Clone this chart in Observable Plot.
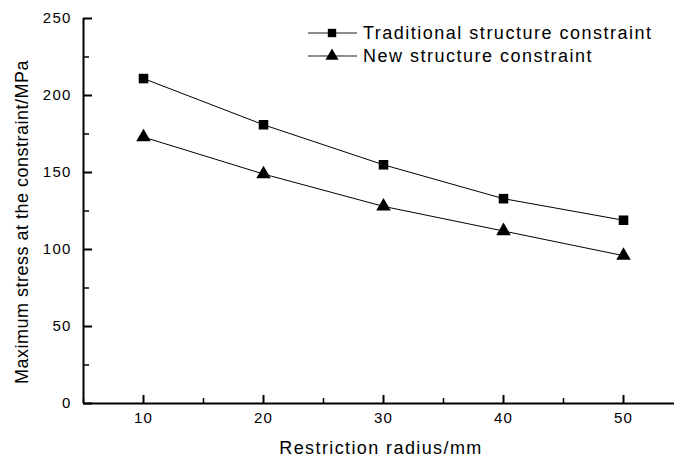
<!DOCTYPE html>
<html>
<head>
<meta charset="utf-8">
<script src="https://cdn.jsdelivr.net/npm/d3@7"></script>
<script src="https://cdn.jsdelivr.net/npm/@observablehq/plot@0.6"></script>
<style>
  html, body { margin: 0; padding: 0; background: #fff; }
  #wrap { position: relative; width: 674px; height: 458px; font-family: "Liberation Sans", Arial, sans-serif; }
  #overlay { position: absolute; left: 0; top: 0; pointer-events: none; }
  #overlay text { font-family: "Liberation Sans", Arial, sans-serif; fill: #000; }
</style>
</head>
<body>
<div id="wrap"></div>
<script>
const radius = [10, 20, 30, 40, 50];
const traditional = [211, 181, 155, 133, 119];
const newStructure = [173, 149, 128, 112, 96];
const seriesNames = ["Traditional structure constraint", "New structure constraint"];
const seriesSymbols = ["square", "triangle"];
const xMajorTicks = [10, 20, 30, 40, 50];
const xMinorTicks = [5, 15, 25, 35, 45];
const yMajorTicks = [0, 50, 100, 150, 200, 250];
const yMinorTicks = [25, 75, 125, 175, 225];
const xTitle = "Restriction radius/mm";
const yTitle = "Maximum stress at the constraint/MPa";

const data = [];
radius.forEach((r, i) => {
  data.push({x: r, y: traditional[i], s: seriesNames[0]});
  data.push({x: r, y: newStructure[i], s: seriesNames[1]});
});

const chart = Plot.plot({
  width: 674,
  height: 458,
  marginLeft: 83,
  marginRight: 0,
  marginTop: 18,
  marginBottom: 55,
  style: {fontFamily: "'Liberation Sans', Arial, sans-serif", fontSize: "15px", color: "#000", background: "#fff", letterSpacing: "1.2px"},
  x: {domain: [5, 54.25]},
  y: {domain: [0, 250]},
  symbol: {domain: seriesNames, range: seriesSymbols},
  marks: [
    Plot.axisX({ticks: xMajorTicks, tickSize: -8, tickPadding: 17, strokeWidth: 2, fontSize: 15, label: null}),
    Plot.axisX({ticks: xMinorTicks, tickSize: -5, tickFormat: () => "", strokeWidth: 1.5, label: null}),
    Plot.axisY({ticks: yMajorTicks, tickSize: -9, tickPadding: 21, strokeWidth: 2, fontSize: 15, label: null}),
    Plot.axisY({ticks: yMinorTicks, tickSize: -6, tickFormat: () => "", strokeWidth: 1.5, label: null}),
    Plot.ruleY([0], {stroke: "#000", strokeWidth: 2}),
    Plot.ruleX([5], {stroke: "#000", strokeWidth: 2}),
    Plot.line(data, {x: "x", y: "y", z: "s", stroke: "#000", strokeWidth: 1}),
    Plot.dot(data, {x: "x", y: "y", symbol: "s", fill: "#000", stroke: "none", r: 5.4})
  ]
});
document.getElementById("wrap").appendChild(chart);

// overlay: legend and axis titles
const svgNS = "http://www.w3.org/2000/svg";
const ov = document.createElementNS(svgNS, "svg");
ov.setAttribute("id", "overlay");
ov.setAttribute("width", 674);
ov.setAttribute("height", 458);
function addText(str, attrs) {
  const t = document.createElementNS(svgNS, "text");
  for (const k in attrs) t.setAttribute(k, attrs[k]);
  t.textContent = str;
  ov.appendChild(t);
}
const rowY = [33, 56];
seriesNames.forEach((name, i) => {
  const y = rowY[i];
  const line = document.createElementNS(svgNS, "line");
  line.setAttribute("x1", 308); line.setAttribute("x2", 357);
  line.setAttribute("y1", y); line.setAttribute("y2", y);
  line.setAttribute("stroke", "#666"); line.setAttribute("stroke-width", 1.5);
  ov.appendChild(line);
  const p = document.createElementNS(svgNS, "path");
  p.setAttribute("d", d3.symbol(seriesSymbols[i] === "square" ? d3.symbolSquare : d3.symbolTriangle, i === 0 ? 70 : 75)());
  p.setAttribute("transform", `translate(332,${y})`);
  p.setAttribute("fill", "#000");
  ov.appendChild(p);
  addText(name, {x: 363, y: y, dy: "0.35em", "font-size": 18, "letter-spacing": 1.5});
});
addText(xTitle, {x: 381, y: 454, "text-anchor": "middle", "font-size": 18, "letter-spacing": 1.4});
addText(yTitle, {transform: "translate(28,222) rotate(-90)", "text-anchor": "middle", "font-size": 18, "letter-spacing": 0.5});
document.getElementById("wrap").appendChild(ov);
</script>
</body>
</html>
